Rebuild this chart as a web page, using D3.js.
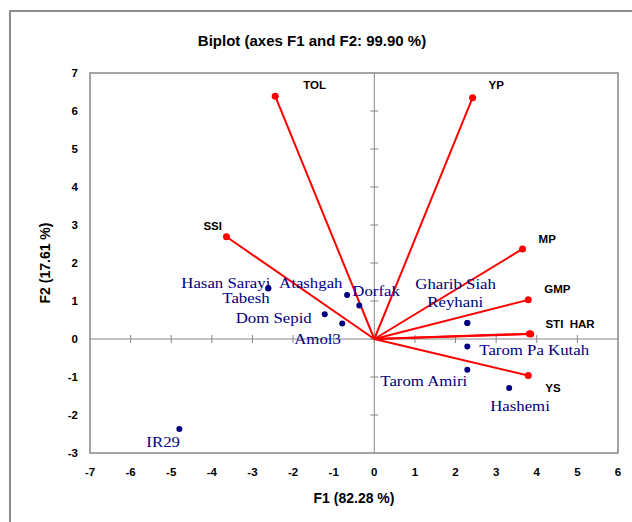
<html>
<script src="https://cdn.jsdelivr.net/npm/d3@7/dist/d3.min.js" charset="utf-8"></script>
<style>
body { margin: 0; background: white; }
.tick-label { font: bold 11.5px "Liberation Sans", sans-serif; fill: #000; }
.axis-title { font: bold 14px "Liberation Sans", sans-serif; fill: #000; }
.chart-title { font: bold 15px "Liberation Sans", sans-serif; fill: #000; }
.var-label { font: bold 11.5px "Liberation Sans", sans-serif; fill: #000; }
.obs-label { font: 15px "Liberation Serif", serif; fill: #000080; }
</style>
<body>
</body>
<script>

// observations (genotypes)
var genotypes = ["Hasan Sarayi", "Tabesh", "Atashgah", "Dorfak", "Dom Sepid", "Amol3",
                 "Gharib Siah", "Reyhani", "Tarom Pa Kutah", "Tarom Amiri", "Hashemi", "IR29"];
var genoF1 = [-2.61, -2.61, -0.67, -0.37, -1.22, -0.79, 2.29, 2.29, 2.29, 2.29, 3.32, -4.80];
var genoF2 = [ 1.34,  1.33,  1.16,  0.88,  0.65,  0.41, 0.42, 0.42, -0.20, -0.81, -1.29, -2.37];

// variables (indices)
var variables = ["TOL", "YP", "SSI", "MP", "GMP", "STI", "HAR", "YS"];
var varF1 = [-2.44, 2.42, -3.64, 3.65, 3.79, 3.82, 3.85, 3.79];
var varF2 = [ 6.39, 6.35,  2.69, 2.37, 1.03, 0.14, 0.13, -0.96];

var xTicks = [-7, -6, -5, -4, -3, -2, -1, 0, 1, 2, 3, 4, 5, 6];
var yTicks = [-3, -2, -1, 0, 1, 2, 3, 4, 5, 6, 7];

// label offsets in px (layout only)
var obsOffset = [[-87, 0], [-46, 15], [-68, -7], [-7, -10], [-89, 9], [-48, 21],
                 [-52, -34], [-40, -16], [12, 8], [-87, 16], [-19, 23], [-33, 18]];
var varOffset = [[28, -7], [16, -9], [-23, -7], [16, -6], [16, -7], [16, -6], [39, -6], [17, 17]];

var W = 632, H = 522;
var pLeft = 90, pRight = 618, pTop = 73, pBottom = 453;

var svg = d3.select("body").append("svg")
	.attr("width", W)
	.attr("height", H);

// outer chart border (only top and left visible)
svg.append("path")
	.attr("d", "M10," + H + " V11 H" + W)
	.attr("fill", "none")
	.attr("stroke", "#8c8c8c")
	.attr("stroke-width", 2);

var x = d3.scaleLinear().domain([-7, 6]).range([pLeft, pRight]);
var y = d3.scaleLinear().domain([-3, 7]).range([pBottom, pTop]);

// plot area
svg.append("rect")
	.attr("x", pLeft).attr("y", pTop)
	.attr("width", pRight - pLeft).attr("height", pBottom - pTop)
	.attr("fill", "none")
	.attr("stroke", "#868686")
	.attr("stroke-width", 1.5);

// zero axes with cross ticks
var g = svg.append("g").attr("stroke", "#868686").attr("stroke-width", 1);
g.append("line").attr("x1", pLeft).attr("x2", pRight).attr("y1", y(0)).attr("y2", y(0));
g.append("line").attr("x1", x(0)).attr("x2", x(0)).attr("y1", pTop).attr("y2", pBottom);
g.selectAll(".xt").data(xTicks.filter(function(d) { return d > -7 && d < 6; }))
	.enter().append("line")
	.attr("x1", function(d) { return x(d); }).attr("x2", function(d) { return x(d); })
	.attr("y1", y(0) - 4).attr("y2", y(0) + 4);
g.selectAll(".yt").data(yTicks.filter(function(d) { return d > -3 && d < 7; }))
	.enter().append("line")
	.attr("y1", function(d) { return y(d); }).attr("y2", function(d) { return y(d); })
	.attr("x1", x(0) - 4).attr("x2", x(0) + 4);

// tick labels
svg.selectAll(".xl").data(xTicks).enter().append("text")
	.attr("class", "tick-label")
	.attr("x", function(d) { return x(d); })
	.attr("y", 476)
	.attr("text-anchor", "middle")
	.text(function(d) { return d; });
svg.selectAll(".yl").data(yTicks).enter().append("text")
	.attr("class", "tick-label")
	.attr("x", 78)
	.attr("y", function(d) { return y(d); })
	.attr("dy", "0.35em")
	.attr("text-anchor", "end")
	.text(function(d) { return d; });

// titles
svg.append("text")
	.attr("class", "chart-title")
	.attr("x", 312).attr("y", 46)
	.attr("text-anchor", "middle")
	.text("Biplot (axes F1 and F2: 99.90 %)");
svg.append("text")
	.attr("class", "axis-title")
	.attr("x", (pLeft + pRight) / 2).attr("y", 503)
	.attr("text-anchor", "middle")
	.text("F1 (82.28 %)");
svg.append("text")
	.attr("class", "axis-title")
	.attr("transform", "translate(50," + (pTop + pBottom) / 2 + ") rotate(-90)")
	.attr("text-anchor", "middle")
	.text("F2 (17.61 %)");

// variable vectors
var vec = svg.append("g");
variables.forEach(function(v, i) {
	vec.append("line")
		.attr("x1", x(0)).attr("y1", y(0))
		.attr("x2", x(varF1[i])).attr("y2", y(varF2[i]))
		.attr("stroke", "#ff0000")
		.attr("stroke-width", 2);
	vec.append("circle")
		.attr("cx", x(varF1[i])).attr("cy", y(varF2[i]))
		.attr("r", 3.5)
		.attr("fill", "#ff0000");
	vec.append("text")
		.attr("class", "var-label")
		.attr("x", x(varF1[i]) + varOffset[i][0])
		.attr("y", y(varF2[i]) + varOffset[i][1])
		.text(v);
});

// observations
var obs = svg.append("g");
genotypes.forEach(function(name, i) {
	obs.append("circle")
		.attr("cx", x(genoF1[i])).attr("cy", y(genoF2[i]))
		.attr("r", 3)
		.attr("fill", "#000080");
	obs.append("text")
		.attr("class", "obs-label")
		.attr("transform", "translate(" + (x(genoF1[i]) + obsOffset[i][0]) + "," + (y(genoF2[i]) + obsOffset[i][1]) + ") scale(1.12,1)")
		.text(name);
});

</script>
</html>
